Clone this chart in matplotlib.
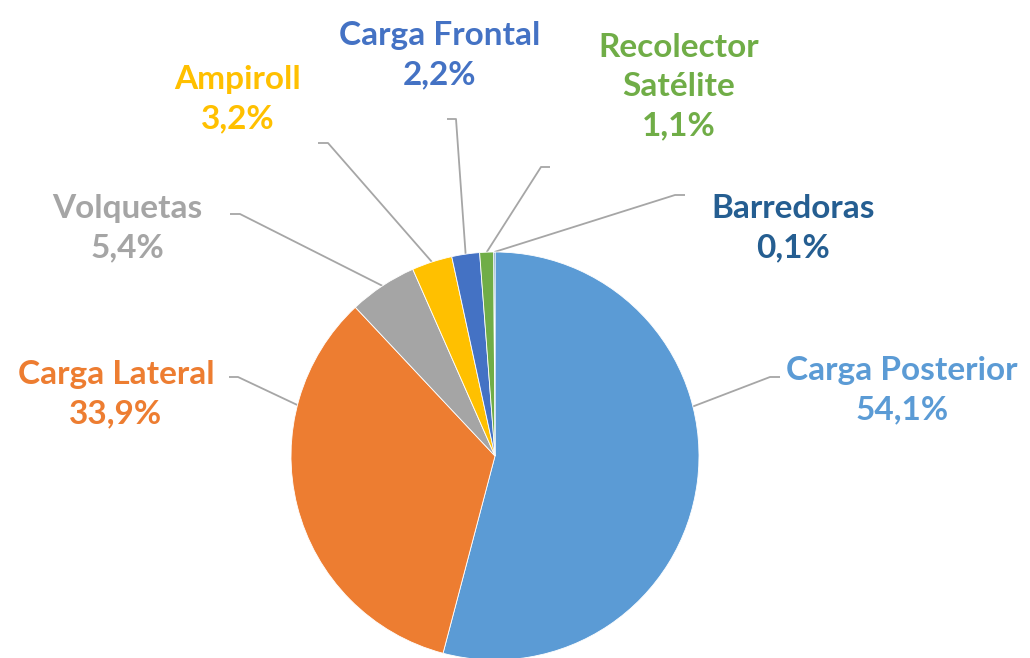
import matplotlib
matplotlib.use("Agg")
import numpy as np
import matplotlib.pyplot as plt

# data
categories = ["Carga Posterior", "Carga Lateral", "Volquetas", "Ampiroll",
              "Carga Frontal", "Recolector\nSatélite", "Barredoras"]
shares = [54.1, 33.9, 5.4, 3.2, 2.2, 1.1, 0.1]
colors = ["#5B9BD5", "#ED7D31", "#A5A5A5", "#FFC000", "#4472C4", "#70AD47", "#255E91"]

# layout (pixels from top-left of the figure)
W, H = 1030, 658
center = (495, 456)
radius = 204
# text center, elbow start, elbow end, attach fraction within the wedge
label_pos = [(902, 390), (116, 394), (127, 228), (238, 99), (440, 55), (679, 87), (793, 228)]
elbows = [((780, 377), (770, 377)),
          ((229, 377), (238, 377)),
          ((230, 214), (240, 214)),
          ((318, 143), (328, 143)),
          ((447, 119), (456, 119)),
          ((550, 167), (541, 167)),
          ((685, 195), (675, 195))]
attach_frac = [0.39, 0.735, 0.5, 0.5, 0.5, 0.5, 0.5]

plt.rcParams['font.family'] = ['Lato', 'DejaVu Sans']

fig = plt.figure(figsize=(W / 100, H / 100), dpi=100)
ax = fig.add_axes([0, 0, 1, 1])

# y axis is inverted below, so counterclock in data = clockwise on screen
wedges, _ = ax.pie(shares, colors=colors, startangle=-90, counterclock=True,
                   center=center, radius=radius,
                   wedgeprops=dict(edgecolor="white", linewidth=0.6))

for w, name, val, col, (tx, ty), (e0, e1), f in zip(
        wedges, categories, shares, colors, label_pos, elbows, attach_frac):
    ang = np.deg2rad(w.theta1 + f * (w.theta2 - w.theta1))
    px = center[0] + radius * np.cos(ang)
    py = center[1] + radius * np.sin(ang)
    ax.plot([e0[0], e1[0], px], [e0[1], e1[1], py], color="#A6A6A6", lw=1.3,
            solid_capstyle="butt", zorder=0)
    txt = name + "\n" + ("%.1f%%" % val).replace(".", ",")
    ax.text(tx, ty, txt, color=col, fontsize=24, fontweight="bold",
            ha="center", va="center", linespacing=1.42, multialignment="center")

ax.set_xlim(0, W)
ax.set_ylim(H, 0)
ax.set_aspect("equal")
ax.axis("off")

fig.savefig("out.png", dpi=100, facecolor="white")
